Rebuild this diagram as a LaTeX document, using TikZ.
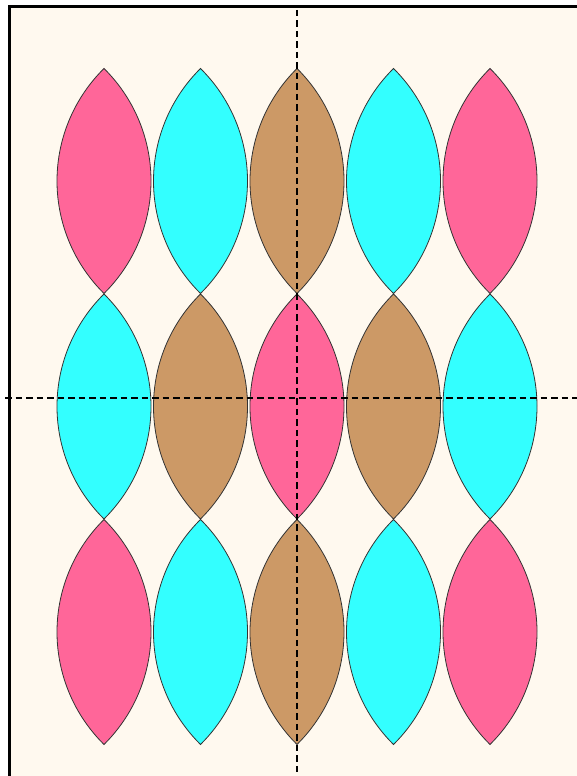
\documentclass[tikz,border=0pt]{standalone}
\usepackage{tikz}
\usetikzlibrary{positioning}
\definecolor{paper}{HTML}{FFF9EF}
\definecolor{lenspink}{HTML}{FF6699}
\definecolor{lenscyan}{HTML}{33FFFF}
\definecolor{lenstan}{HTML}{CC9966}
\tikzset{
  lens/.style={draw=black!80, line width=0.8pt, line join=miter},
  lensP/.style={lens, fill=lenspink},
  lensC/.style={lens, fill=lenscyan},
  lensT/.style={lens, fill=lenstan},
  guide/.style={line width=1.6pt, dash pattern=on 6.5pt off 4pt},
  frameline/.style={line width=3.2pt}
}
% one lens: two circle arcs meeting at the tips
\newcommand{\lens}[3]{%
  \path[#3] (#1,#2+112.5) arc[start angle=45.36, end angle=-45.36, radius=158.1]
    arc[start angle=225.36, end angle=134.64, radius=158.1] -- cycle;}

\begin{document}
\begin{tikzpicture}[x=1pt, y=1pt]
  \useasboundingbox (0,0) rectangle (577,776);
  \fill[white] (0,0) rectangle (577,776);
  \fill[paper] (11,0) rectangle (577,767.7);
  \draw[frameline] (9.4,0) -- (9.4,769.3) -- (577,769.3);

  % top row
  \lens{104}{595}{lensP}
  \lens{200.5}{595}{lensC}
  \lens{297}{595}{lensT}
  \lens{393.5}{595}{lensC}
  \lens{490}{595}{lensP}
  % middle row
  \lens{104}{369.5}{lensC}
  \lens{200.5}{369.5}{lensT}
  \lens{297}{369.5}{lensP}
  \lens{393.5}{369.5}{lensT}
  \lens{490}{369.5}{lensC}
  % bottom row
  \lens{104}{144}{lensP}
  \lens{200.5}{144}{lensC}
  \lens{297}{144}{lensT}
  \lens{393.5}{144}{lensC}
  \lens{490}{144}{lensP}

  % axes
  \coordinate (xl) at (5,378);
  \coordinate (xr) at (577,378);
  \coordinate (yt) at (297,766);
  \coordinate (yb) at (297,0);
  \draw[guide] (xl) -- (xr);
  \draw[guide] (yt) -- (yb);
\end{tikzpicture}
\end{document}
